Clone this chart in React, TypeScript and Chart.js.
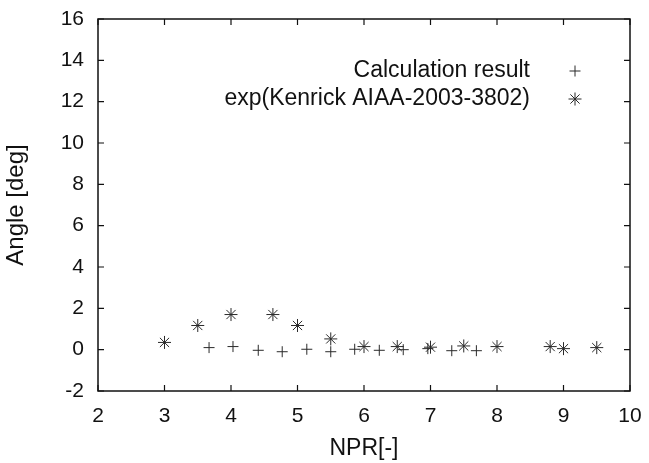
import React, { useEffect, useRef } from "react";
import { Chart, registerables } from "chart.js";

Chart.register(...registerables);

const calcX = [3.67, 4.03, 4.41, 4.77, 5.14, 5.5, 5.86, 6.23, 6.59, 6.96, 7.32, 7.69];
const calcY = [0.1, 0.15, -0.03, -0.1, 0.02, -0.1, 0.02, -0.03, 0.0, 0.05, -0.05, -0.05];

const expX = [3.0, 3.5, 4.0, 4.63, 5.0, 5.5, 6.0, 6.5, 7.0, 7.5, 8.0, 8.8, 9.0, 9.5];
const expY = [0.35, 1.17, 1.7, 1.7, 1.17, 0.52, 0.15, 0.15, 0.12, 0.18, 0.15, 0.15, 0.05, 0.1];

const legendLabels = ["Calculation result", "exp(Kenrick AIAA-2003-3802)"];
const xTitle = "NPR[-]";
const yTitle = "Angle [deg]";

const FONT = "'Liberation Sans', Arial, Helvetica, sans-serif";
const INK = "#111";
const MARK = "#2a2a2a";

const framePlugin = {
  id: "gnuplotFrame",
  afterDraw(chart: any) {
    const { ctx, chartArea: a, scales } = chart;
    ctx.save();
    ctx.strokeStyle = INK;
    ctx.lineWidth = 1.5;
    ctx.strokeRect(a.left, a.top, a.right - a.left, a.bottom - a.top);
    const tl = 6;
    ctx.lineWidth = 1.2;
    ctx.beginPath();
    scales.x.ticks.forEach((t: any) => {
      const px = scales.x.getPixelForValue(t.value);
      ctx.moveTo(px, a.bottom);
      ctx.lineTo(px, a.bottom - tl);
      ctx.moveTo(px, a.top);
      ctx.lineTo(px, a.top + tl);
    });
    scales.y.ticks.forEach((t: any) => {
      const py = scales.y.getPixelForValue(t.value);
      ctx.moveTo(a.left, py);
      ctx.lineTo(a.left + tl, py);
      ctx.moveTo(a.right, py);
      ctx.lineTo(a.right - tl, py);
    });
    ctx.stroke();

    // legend
    ctx.font = `23px ${FONT}`;
    ctx.fillStyle = INK;
    ctx.textAlign = "right";
    ctx.textBaseline = "middle";
    const textRight = a.right - 100;
    const markX = a.right - 55;
    const rows = [a.top + 52, a.top + 80];
    legendLabels.forEach((lab, i) => {
      ctx.fillText(lab, textRight, rows[i]);
    });
    ctx.strokeStyle = MARK;
    ctx.lineWidth = 1;
    ctx.beginPath();
    const r1 = 5.5;
    ctx.moveTo(markX - r1, rows[0]);
    ctx.lineTo(markX + r1, rows[0]);
    ctx.moveTo(markX, rows[0] - r1);
    ctx.lineTo(markX, rows[0] + r1);
    const r2 = 6.5;
    const d = r2 * Math.SQRT1_2;
    ctx.moveTo(markX - r2, rows[1]);
    ctx.lineTo(markX + r2, rows[1]);
    ctx.moveTo(markX, rows[1] - r2);
    ctx.lineTo(markX, rows[1] + r2);
    ctx.moveTo(markX - d, rows[1] - d);
    ctx.lineTo(markX + d, rows[1] + d);
    ctx.moveTo(markX - d, rows[1] + d);
    ctx.lineTo(markX + d, rows[1] - d);
    ctx.stroke();
    ctx.restore();
  },
};

export default function App() {
  const ref = useRef<HTMLCanvasElement | null>(null);
  useEffect(() => {
    if (!ref.current) return;
    const chart = new Chart(ref.current, {
      type: "scatter",
      data: {
        datasets: [
          {
            label: legendLabels[0],
            data: calcX.map((x, i) => ({ x, y: calcY[i] })),
            pointStyle: "cross",
            pointRadius: 5.5,
            borderColor: MARK,
            backgroundColor: MARK,
            borderWidth: 1,
            showLine: false,
          },
          {
            label: legendLabels[1],
            data: expX.map((x, i) => ({ x, y: expY[i] })),
            pointStyle: "star",
            pointRadius: 6.5,
            borderColor: MARK,
            backgroundColor: MARK,
            borderWidth: 1,
            showLine: false,
          },
        ],
      },
      options: {
        responsive: false,
        animation: false,
        layout: { padding: { left: 0, top: 19, right: 19, bottom: 0 } },
        plugins: {
          legend: { display: false },
          tooltip: { enabled: false },
        },
        scales: {
          x: {
            type: "linear",
            min: 2,
            max: 10,
            ticks: {
              stepSize: 1,
              padding: 13,
              color: INK,
              font: { family: FONT, size: 21 },
            },
            grid: { display: false, drawTicks: false },
            border: { display: false },
            title: {
              display: true,
              text: xTitle,
              color: INK,
              font: { family: FONT, size: 23 },
              padding: { top: 0, bottom: 1 },
            },
            afterFit(scale: any) {
              scale.height = 72;
              scale.paddingLeft = 0;
              scale.paddingRight = 0;
            },
          },
          y: {
            type: "linear",
            min: -2,
            max: 16,
            ticks: {
              stepSize: 2,
              padding: 14,
              color: INK,
              font: { family: FONT, size: 21 },
            },
            grid: { display: false, drawTicks: false },
            border: { display: false },
            title: {
              display: true,
              text: yTitle,
              color: INK,
              font: { family: FONT, size: 24 },
              padding: { top: 2, bottom: 0 },
            },
            afterFit(scale: any) {
              scale.width = 98;
              scale.paddingTop = 0;
              scale.paddingBottom = 0;
            },
          },
        },
      },
      plugins: [framePlugin],
    });
    return () => chart.destroy();
  }, []);
  return (
    <div style={{ position: "absolute", left: 0, top: 0 }}>
      <canvas ref={ref} width={649} height={463} style={{ width: 649, height: 463, display: "block" }} />
    </div>
  );
}
